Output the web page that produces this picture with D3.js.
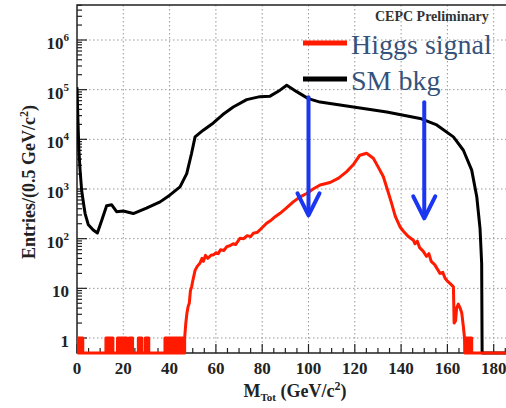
<!DOCTYPE html>
<html lang="en">
<head>
    <meta charset="UTF-8">
    <title>MTot</title>
    <script src="https://cdn.jsdelivr.net/npm/d3@7/dist/d3.min.js"></script>
    <style>
        body { margin: 0; background: #fff; }
        svg { display: block; }
        text { font-family: "Liberation Serif", "DejaVu Serif", Times, serif; }
    </style>
</head>
<body>
<script>

    // ---- data ----
    // SM background, [M_Tot in GeV, entries]
    var bkgPoints = [
        [0, 112000], [0.4, 25000], [0.8, 6300], [1.3, 2500], [2, 950], [3, 450], [3.5, 320],
        [4.9, 190], [7, 150], [8.8, 130], [10.7, 235], [12.8, 460], [15, 480], [17.1, 350],
        [20, 360], [24.3, 320], [30, 410], [35.9, 550], [40.2, 760], [44.5, 1100], [47.4, 2040],
        [49.5, 5250], [51, 11200], [54.4, 15100], [58.9, 21400], [63, 31600], [67.5, 44700],
        [73.3, 63100], [79, 72400], [83.4, 74100], [87.7, 97700], [90.6, 123000], [94.9, 91200],
        [99.9, 66100], [105, 56200], [109.3, 52500], [119.4, 44700], [133.8, 35500],
        [148.2, 26300], [155.4, 19500], [162.6, 11200], [166.9, 6030], [170.5, 2400],
        [172.7, 690], [174.1, 160], [174.8, 32], [175, 0], [190, 0]
    ];

    // Higgs signal, isolated bins (0.5 GeV wide) with one entry
    var sigLowBins = [0, 0.5, 1, 1.5, 2, 12.5, 13, 13.5, 14, 15, 17.5, 18, 19, 20, 21,
        22.5, 23.5, 26.5, 27.5, 29.5, 30.5, 38, 38.5, 39, 40, 40.5, 41, 42, 42.5, 43,
        44, 44.5, 45, 46];
    var sigHighBins = [167.5, 168.5, 169, 170];

    // Higgs signal main body, [GeV, entries]
    var sigPoints = [
        [46.5, 1], [47, 2], [47.5, 3.2], [48, 4.3], [48.5, 5], [49, 9], [49.5, 10.7], [50, 14],
        [51, 23], [52, 28], [53.1, 32], [54, 40], [54.6, 35], [55.5, 46], [56.5, 40], [58, 47],
        [58.9, 47], [60, 52], [61, 50], [62, 60], [63.5, 58], [64.7, 69], [66, 72], [67.5, 79],
        [68.5, 76], [70.4, 102], [72, 100], [73.5, 115], [75, 110], [76.2, 129], [78, 135],
        [79.5, 158], [81.9, 204], [83.5, 229], [85, 263], [87.7, 324], [90, 398], [93.4, 550],
        [96, 676], [99.2, 813], [102, 1000], [105, 1200], [109.3, 1350], [113, 1660],
        [116.5, 2240], [119.5, 3160], [122.2, 4790], [125.1, 5250], [128, 4170], [130, 2820],
        [132.3, 1780], [134, 1000], [135.9, 513], [137.5, 282], [139.5, 174], [141, 141],
        [143, 112], [145.3, 93], [146, 79], [147, 89], [148, 66], [149.5, 56], [151, 44],
        [152, 50], [153, 35], [154.5, 30], [156.8, 20], [158, 21], [159, 16], [160, 14],
        [161.1, 12.6], [162.6, 10.7], [162.9, 2], [163.5, 2.2], [164, 4], [164.7, 4.8],
        [165.5, 4], [166.2, 3.2], [166.9, 1.7], [167.4, 1], [167.5, 0]
    ];

    // arrows: x position, top and tip in entries
    var arrows = [
        {x: 100, top: 70000, tip: 295},
        {x: 150, top: 56000, tip: 257}
    ];

    var xTicks = [0, 20, 40, 60, 80, 100, 120, 140, 160, 180];
    var yTicks = [1, 10, 100, 1000, 10000, 100000, 1000000];

    // ---- canvas ----
    var width = 506;
    var height = 408;
    var svg = d3.select("body")
        .append("svg")
        .attr("width", width)
        .attr("height", height);

    var plotLeft = 77, plotBottom = 353, plotTop = 5;
    var x = d3.scaleLinear().domain([0, 20]).range([plotLeft, plotLeft + 46.3]);
    var y = d3.scaleLog().domain([1, 1e6]).range([338, 40]);
    var yMin = 0.5;
    var yMax = y.invert(plotTop);
    var xMax = x.invert(width + 20);

    function yv(v) {
        return v <= 0 ? y(yMin) : y(v);
    }

    svg.append("clipPath").attr("id", "plot")
        .append("rect")
        .attr("x", plotLeft).attr("y", plotTop - 2)
        .attr("width", x(xMax) - plotLeft).attr("height", plotBottom - plotTop + 4);

    // grid
    var grid = svg.append("g")
        .attr("stroke", "#999")
        .attr("stroke-width", 1)
        .attr("stroke-dasharray", "1.5,2.5");
    xTicks.slice(1).forEach(function (t) {
        grid.append("line")
            .attr("x1", x(t)).attr("x2", x(t))
            .attr("y1", plotTop).attr("y2", plotBottom);
    });
    yTicks.forEach(function (t) {
        grid.append("line")
            .attr("x1", plotLeft).attr("x2", width)
            .attr("y1", y(t)).attr("y2", y(t));
    });

    // ticks (inside, ROOT style)
    var ticks = svg.append("g").attr("stroke", "#222").attr("stroke-width", 1.2);
    for (var t = 0; t <= xMax; t += 5) {
        var major = t % 20 === 0;
        ticks.append("line")
            .attr("x1", x(t)).attr("x2", x(t))
            .attr("y1", plotBottom).attr("y2", plotBottom - (major ? 9 : 5));
    }
    var minorY = [];
    for (var e = -1; e <= 6; e++) {
        for (var m = 1; m <= 9; m++) {
            var v = m * Math.pow(10, e);
            if (v >= yMin && v <= yMax) minorY.push(v);
        }
    }
    minorY.forEach(function (v) {
        var major = yTicks.indexOf(v) >= 0;
        ticks.append("line")
            .attr("x1", plotLeft).attr("x2", plotLeft + (major ? 10 : 5))
            .attr("y1", y(v)).attr("y2", y(v));
    });

    // frame
    svg.append("path")
        .attr("d", "M" + width + "," + plotTop + "H" + plotLeft + "V" + plotBottom + "H" + width)
        .attr("fill", "none")
        .attr("stroke", "#222")
        .attr("stroke-width", 1.5);

    // curves
    var line = d3.line()
        .x(function (d) { return x(d[0]); })
        .y(function (d) { return yv(d[1]); });

    // build the signal outline: empty bins along the floor, single-entry bins as steps
    function binSteps(bins) {
        var pts = [];
        bins.forEach(function (b) {
            pts.push([b, 0], [b, 1], [b + 0.5, 1], [b + 0.5, 0]);
        });
        return pts;
    }
    var sigAll = [[0, 0]].concat(binSteps(sigLowBins), sigPoints,
        binSteps(sigHighBins), [[xMax, 0]]);

    var curves = svg.append("g").attr("clip-path", "url(#plot)");

    curves.append("path")
        .attr("d", line(bkgPoints))
        .attr("fill", "none")
        .attr("stroke", "#000")
        .attr("stroke-width", 3)
        .attr("stroke-linejoin", "round");

    curves.append("path")
        .attr("d", line(sigAll))
        .attr("fill", "none")
        .attr("stroke", "#ff1a00")
        .attr("stroke-width", 3)
        .attr("stroke-linejoin", "round");

    // arrows
    var arr = svg.append("g")
        .attr("stroke", "#1a36f2")
        .attr("stroke-width", 4)
        .attr("fill", "none")
        .attr("stroke-linecap", "round")
        .attr("stroke-linejoin", "round");
    arrows.forEach(function (a) {
        var ax = x(a.x), y0 = y(a.top), y1 = y(a.tip);
        arr.append("line").attr("x1", ax).attr("x2", ax).attr("y1", y0).attr("y2", y1 - 2);
        arr.append("path")
            .attr("d", "M" + (ax - 11) + "," + (y1 - 22) + "L" + ax + "," + y1 + "L" + (ax + 11) + "," + (y1 - 22));
    });

    // tick labels
    svg.append("g").selectAll("text")
        .data(xTicks)
        .enter().append("text")
        .attr("x", function (d) { return x(d); })
        .attr("y", 374)
        .attr("text-anchor", "middle")
        .style("font-weight", "bold")
        .style("font-size", "17px")
        .attr("fill", "#222")
        .text(function (d) { return d; });

    var yl = svg.append("g").selectAll("text")
        .data(yTicks)
        .enter().append("text")
        .attr("x", 69)
        .attr("y", function (d) { return y(d) + 9; })
        .attr("text-anchor", "end")
        .style("font-weight", "bold")
        .style("font-size", "17px")
        .attr("fill", "#222");
    yl.each(function (d) {
        var n = Math.round(Math.log10(d));
        var s = d3.select(this);
        if (n < 2) {
            s.text(d);
        } else {
            s.append("tspan").text("10");
            s.append("tspan").attr("dy", -8).style("font-size", "11px").text(n);
        }
    });

    // axis titles
    var yt = svg.append("text")
        .attr("transform", "translate(35,182) rotate(-90)")
        .attr("text-anchor", "middle")
        .style("font-weight", "bold")
        .style("font-size", "18px")
        .attr("fill", "#222");
    yt.append("tspan").text("Entries/(0.5 GeV/c");
    yt.append("tspan").attr("dy", -7).style("font-size", "12px").text("2");
    yt.append("tspan").attr("dy", 7).text(")");

    var xt = svg.append("text")
        .attr("x", 295)
        .attr("y", 397)
        .attr("text-anchor", "middle")
        .style("font-weight", "bold")
        .style("font-size", "18px")
        .attr("fill", "#222");
    xt.append("tspan").text("M");
    xt.append("tspan").attr("dy", 4).style("font-size", "11px").text("Tot");
    xt.append("tspan").attr("dy", -4).text(" (GeV/c");
    xt.append("tspan").attr("dy", -7).style("font-size", "12px").text("2");
    xt.append("tspan").attr("dy", 7).text(")");

    // label and legend
    svg.append("text")
        .attr("x", 375)
        .attr("y", 21)
        .style("font-weight", "bold")
        .style("font-size", "14px")
        .attr("fill", "#333")
        .text("CEPC Preliminary");

    var legend = [
        {name: "Higgs signal", color: "#ff1a00"},
        {name: "SM bkg", color: "#000"}
    ];
    var lg = svg.append("g");
    legend.forEach(function (l, i) {
        var ly = 43 + i * 36;
        lg.append("line")
            .attr("x1", 303).attr("x2", 347)
            .attr("y1", ly).attr("y2", ly)
            .attr("stroke", l.color)
            .attr("stroke-width", 5);
        lg.append("text")
            .attr("x", 351)
            .attr("y", ly + 11)
            .style("font-size", "28px")
            .attr("fill", "#35527a")
            .text(l.name);
    });

</script>
</body>
</html>
